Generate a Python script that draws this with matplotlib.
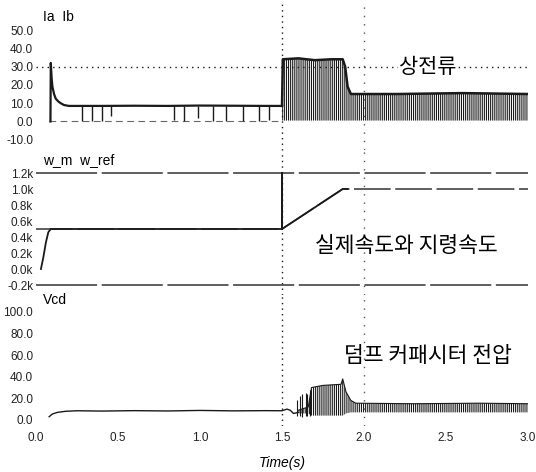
import matplotlib.pyplot as plt

plt.rcParams['font.family'] = ['Liberation Sans', 'DejaVu Sans']
plt.rcParams['hatch.linewidth'] = 0.8
KR = ['Noto Sans CJK KR', 'DejaVu Sans']

# --- phase currents Ia / Ib (A) ---
ia_t = [0.088, 0.09, 0.095, 0.1, 0.11, 0.12, 0.135, 0.15, 0.17, 0.2, 0.4, 0.6, 0.8, 1.0, 1.2, 1.4, 1.5]
ia_v = [0.0, 32.0, 24.0, 19.0, 15.0, 12.5, 11.0, 10.0, 9.0, 8.5, 8.5, 8.6, 8.5, 8.7, 8.6, 8.5, 8.5]
ia_spike_t = [0.28, 0.34, 0.40, 0.46, 0.84, 0.90, 0.99, 1.08, 1.16, 1.26, 1.36, 1.42]
ia_spike_lo = [0.5, 0.5, 0.5, 3.0, 1.0, 0.5, 2.0, 0.5, 0.5, 0.5, 0.5, 1.0]
ib_t = [0.08, 1.5]
ib_v = [0.3, 0.3]
band_i_t = [1.5, 1.505, 1.6, 1.7, 1.8, 1.87, 1.885, 1.9, 1.92, 2.2, 2.6, 3.0]
band_i_hi = [8.5, 34.0, 34.5, 33.5, 34.0, 34.0, 30.0, 19.0, 15.0, 15.0, 15.5, 15.0]
band_i_lo = [0.5, 0.5, 0.5, 0.5, 0.5, 0.5, 0.5, 0.5, 0.5, 0.5, 0.5, 0.5]

# --- speed (rpm, shown in k) ---
wm_t = [0.03, 0.045, 0.06, 0.075, 0.09, 1.5, 1.5, 1.5, 1.87, 1.9]
wm_v = [0.0, 0.15, 0.33, 0.46, 0.5, 0.5, 1.2, 0.5, 1.0, 1.0]
wref_t = [0.0, 1.5, 1.87, 3.0]
wref_v = [0.5, 0.5, 1.0, 1.0]

# --- dump capacitor voltage Vcd (V) ---
vcd_t = [0.08, 0.1, 0.13, 0.18, 0.25, 0.4, 0.6, 0.8, 1.0, 1.2, 1.4, 1.5, 1.53, 1.55, 1.57, 1.6]
vcd_v = [3.0, 5.5, 7.0, 8.0, 8.5, 8.2, 8.6, 8.3, 8.8, 8.4, 8.6, 8.5, 10.0, 9.0, 6.0, 7.0]
vcd_spike_t = [1.59, 1.61, 1.62, 1.645, 1.655, 1.67]
vcd_spike_hi = [18.0, 22.0, 24.0, 25.0, 24.0, 28.0]
vcd_spike_lo = [4.0, 4.0, 3.0, 4.0, 4.0, 4.0]
band_v_t = [1.6, 1.66, 1.68, 1.75, 1.86, 1.87, 1.89, 1.92, 1.95, 2.3, 2.7, 3.0]
band_v_hi = [9.0, 12.0, 30.0, 32.0, 33.0, 38.0, 26.0, 18.0, 15.5, 15.0, 15.5, 15.0]
band_v_lo = [6.0, 6.0, 4.0, 4.0, 4.0, 4.0, 6.0, 7.0, 7.0, 7.0, 7.0, 7.0]

ink = '#1a1a1a'
dots = (0, (1, 3))

fig = plt.figure(figsize=(5.36, 4.72), dpi=100)
left, width = 0.0672, 0.9179
ax1 = fig.add_axes([left, 0.6822, width, 0.3178])
ax2 = fig.add_axes([left, 0.375, width, 0.3072])
ax3 = fig.add_axes([left, 0.0975, width, 0.2775])

for ax in (ax1, ax2, ax3):
    ax.set_xlim(0, 3.0)
    for s in ax.spines.values():
        s.set_visible(False)
    ax.tick_params(length=0, labelsize=8.5, colors='#222', pad=2)
    ax.axvline(1.5, color=ink, ls=dots, lw=1)
    ax.axvline(2.0, color='#555', ls=(0, (1, 5)), lw=1)

# top panel
ax1.set_ylim(-15.6, 66.4)
ax1.set_yticks([-10, 0, 10, 20, 30, 40, 50])
ax1.set_yticklabels(['%.1f' % v for v in [-10, 0, 10, 20, 30, 40, 50]])
ax1.set_xticks([])
ax1.axhline(30, color=ink, ls=dots, lw=1)
ax1.plot(ib_t, ib_v, color='#666', lw=0.8, ls=(0, (6, 4)))
ax1.plot(ia_t, ia_v, color=ink, lw=1.6)
ax1.vlines(ia_spike_t, ia_spike_lo, 8.5, color=ink, lw=1)
ax1.fill_between(band_i_t, band_i_lo, band_i_hi, facecolor='white',
                 edgecolor=ink, hatch='||||||||', lw=0)
ax1.plot(band_i_t, band_i_hi, color=ink, lw=1.8)
ax1.text(0.04, 57, 'Ia  Ib', fontsize=10, va='center', ha='left')
ax1.text(2.39, 30, '상전류', family=KR, fontsize=15, fontweight='light',
         ha='center', va='center',
         bbox=dict(facecolor='white', edgecolor='none', pad=1))

# middle panel
ax2.set_ylim(-0.325, 1.4875)
ax2.set_yticks([-0.2, 0.0, 0.2, 0.4, 0.6, 0.8, 1.0, 1.2])
ax2.set_yticklabels(['%.1fk' % v for v in [-0.2, 0.0, 0.2, 0.4, 0.6, 0.8, 1.0, 1.2]])
ax2.set_xticks([])
ax2.axhline(1.2, color='#333', ls=(0, (40, 3)), lw=1.1)
ax2.axhline(-0.2, color='#333', ls=(0, (40, 3)), lw=1.1)
ax2.plot(wref_t, wref_v, color='#333', lw=1.1, ls=(0, (24, 3)))
ax2.plot(wm_t, wm_v, color=ink, lw=1.3)
ax2.text(0.04, 1.36, 'w_m  w_ref', fontsize=10, va='center', ha='left')
ax2.text(2.255, 0.29, '실제속도와 지령속도', family=KR, fontsize=15.5,
         fontweight='light', ha='center', va='center')

# bottom panel
ax3.set_ylim(-5.6, 115.7)
ax3.set_yticks([0, 20, 40, 60, 80, 100])
ax3.set_yticklabels(['%.1f' % v for v in [0, 20, 40, 60, 80, 100]])
ax3.set_xticks([0, 0.5, 1.0, 1.5, 2.0, 2.5, 3.0])
ax3.set_xticklabels(['%.1f' % v for v in [0, 0.5, 1.0, 1.5, 2.0, 2.5, 3.0]])
ax3.tick_params(axis='x', pad=4)
ax3.plot(vcd_t, vcd_v, color=ink, lw=1)
ax3.vlines(vcd_spike_t, vcd_spike_lo, vcd_spike_hi, color=ink, lw=0.8)
ax3.fill_between(band_v_t, band_v_lo, band_v_hi, facecolor='white',
                 edgecolor=ink, hatch='||||||||', lw=0)
ax3.plot(band_v_t, band_v_hi, color=ink, lw=0.8)
ax3.text(0.04, 111, 'Vcd', fontsize=10, va='center', ha='left')
ax3.text(2.39, 59, '덤프 커패시터 전압', family=KR, fontsize=15.5,
         fontweight='light', ha='center', va='center')
ax3.set_xlabel('Time(s)', fontsize=10, style='italic', labelpad=9)

fig.savefig('out.png', dpi=100)
